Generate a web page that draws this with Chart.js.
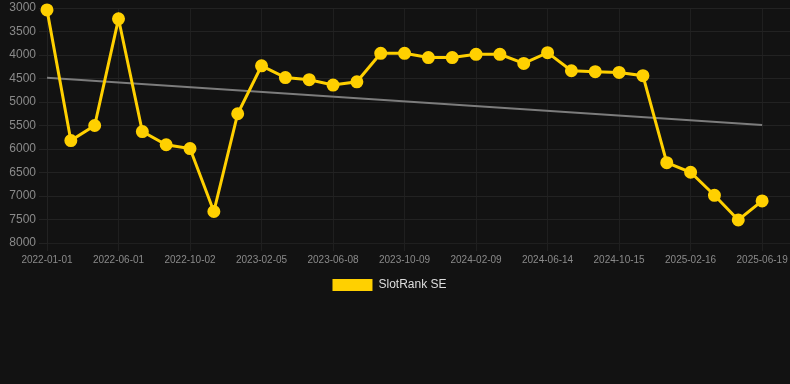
<!DOCTYPE html>
<html>
<head>
<meta charset="utf-8">
<script src="https://cdn.jsdelivr.net/npm/chart.js@4/dist/chart.umd.min.js"></script>
<style>
  html, body { margin: 0; padding: 0; background: #121212; }
  #wrap { position: relative; width: 790px; height: 301px; }
</style>
</head>
<body>
<div id="wrap"><canvas id="rankChart"></canvas></div>
<script>
  // dates of each sample
  const dates = [
    "2022-01-01", "2022-02-18", "2022-04-10", "2022-06-01", "2022-07-12", "2022-08-22",
    "2022-10-02", "2022-11-12", "2022-12-24", "2023-02-05", "2023-03-18", "2023-04-28",
    "2023-06-08", "2023-07-19", "2023-08-29", "2023-10-09", "2023-11-19", "2023-12-30",
    "2024-02-09", "2024-03-21", "2024-05-03", "2024-06-14", "2024-07-25", "2024-09-04",
    "2024-10-15", "2024-11-25", "2025-01-05", "2025-02-16", "2025-03-29", "2025-05-09",
    "2025-06-19"
  ];

  // rank values (lower = better, axis reversed)
  const rankSE = [
    3040, 5820, 5500, 3230, 5630, 5910, 5990, 7330, 5250, 4230, 4480,
    4525, 4640, 4570, 3965, 3965, 4055, 4055, 3985, 3985, 4180,
    3950, 4335, 4355, 4370, 4440, 6290, 6495, 6985, 7510, 7105
  ];

  // trend line end points (first and last sample)
  const trendStart = 4485;
  const trendEnd = 5490;

  const yTicks = [3000, 3500, 4000, 4500, 5000, 5500, 6000, 6500, 7000, 7500, 8000];

  const rankPoints = rankSE.map((v, i) => ({ x: i, y: v }));
  const trendPoints = [{ x: 0, y: trendStart }, { x: dates.length - 1, y: trendEnd }];

  // nudge legend a bit left, like the original
  const legendShift = {
    id: "legendShift",
    afterLayout: (chart) => {
      if (chart.legend) chart.legend.right -= 11;
    }
  };

  const ctx = document.getElementById("rankChart").getContext("2d");

  new Chart(ctx, {
    type: "line",
    data: {
      datasets: [
        {
          label: "SlotRank SE",
          data: rankPoints,
          borderColor: "#ffd000",
          backgroundColor: "#ffd000",
          borderWidth: 3,
          pointRadius: 5,
          pointHoverRadius: 6,
          tension: 0,
          clip: false
        },
        {
          label: "trend",
          data: trendPoints,
          borderColor: "#7c7c7c",
          backgroundColor: "#7c7c7c",
          borderWidth: 2,
          pointRadius: 0,
          tension: 0
        }
      ]
    },
    options: {
      responsive: true,
      maintainAspectRatio: false,
      animation: false,
      layout: { autoPadding: false },
      plugins: {
        legend: {
          display: true,
          position: "bottom",
          labels: {
            color: "#dddddd",
            font: { size: 12 },
            boxWidth: 40,
            boxHeight: 12,
            filter: (item) => item.text !== "trend",
            generateLabels: (chart) =>
              Chart.defaults.plugins.legend.labels.generateLabels(chart).map((l) => ({ ...l, lineWidth: 0 }))
          }
        },
        tooltip: { enabled: false }
      },
      scales: {
        x: {
          type: "linear",
          min: 0,
          max: 31.17,
          bounds: "data",
          afterFit: (scale) => { scale.paddingRight = 0; },
          grid: { color: "#1f1f1f" },
          border: { color: "#1f1f1f" },
          ticks: {
            stepSize: 3,
            includeBounds: false,
            autoSkip: false,
            maxRotation: 0,
            color: "#8a8a8a",
            font: { size: 10 },
            callback: (v) => dates[v] ?? ""
          }
        },
        y: {
          reverse: true,
          min: 3000,
          max: 8000,
          afterBuildTicks: (axis) => { axis.ticks = yTicks.map((v) => ({ value: v })); },
          afterFit: (scale) => { scale.width = 47; scale.paddingTop = 8; },
          grid: { color: "#222222" },
          border: { color: "#222222" },
          ticks: {
            color: "#8a8a8a",
            font: { size: 12 },
            callback: (v) => String(v)
          }
        }
      }
    },
    plugins: [legendShift]
  });
</script>
</body>
</html>
